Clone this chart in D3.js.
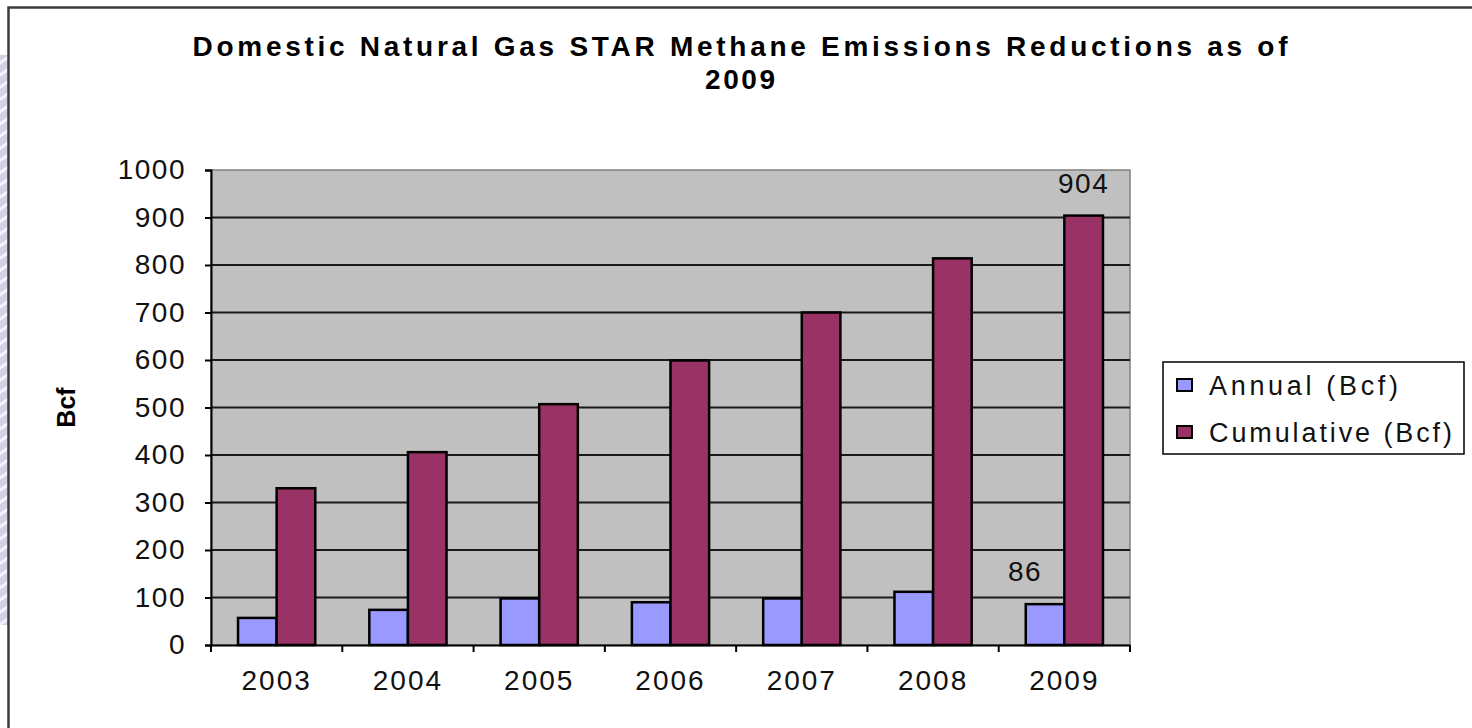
<!DOCTYPE html>
<html>
<head>
<meta charset="utf-8">
<script src="https://cdn.jsdelivr.net/npm/d3@7"></script>
<style>
  body { margin: 0; background: #fff; }
  svg { display: block; font-family: "Liberation Sans", Arial, sans-serif; }
</style>
</head>
<body>
<svg id="chart" width="1472" height="728"></svg>
<script>
// chart data
const years = ['2003', '2004', '2005', '2006', '2007', '2008', '2009']
const seriesNames = ['Annual (Bcf)', 'Cumulative (Bcf)']
const annual = [57, 74, 98, 90, 98, 112, 86]
const cumulative = [330, 406, 507, 599, 700, 814, 904]
const yTicks = [0, 100, 200, 300, 400, 500, 600, 700, 800, 900, 1000]
const seriesColors = ['#9999ff', '#993366']
const titleLines = ['Domestic Natural Gas STAR Methane Emissions Reductions as of', '2009']
const labelled = ['2009']

const svg = d3.select('#chart')

// plot box
const plot = { left: 211, top: 170, right: 1130, bottom: 645 }
const gapWidth = 1.4

// slide background stripes on the left edge
const defs = svg.append('defs')
const pat = defs.append('pattern')
  .attr('id', 'stripes')
  .attr('patternUnits', 'userSpaceOnUse')
  .attr('width', 10).attr('height', 10)
  .attr('patternTransform', 'rotate(-35)')
pat.append('rect').attr('width', 10).attr('height', 10).attr('fill', '#d2d2e6')
pat.append('rect').attr('width', 10).attr('height', 3).attr('fill', '#f4f4fa')

svg.append('rect')
  .attr('x', 0).attr('y', 55)
  .attr('width', 8).attr('height', 570)
  .attr('fill', 'url(#stripes)')

// chart frame
svg.append('rect')
  .attr('x', 8.5).attr('y', 7.5)
  .attr('width', 1500).attr('height', 800)
  .attr('fill', '#fff')
  .attr('stroke', '#3c3c3c')
  .attr('stroke-width', 2.5)

// title
svg.append('text')
  .attr('x', 740).attr('y', 56)
  .attr('text-anchor', 'middle')
  .attr('font-size', 28).attr('font-weight', 'bold')
  .attr('textLength', 1095).attr('lengthAdjust', 'spacing')
  .attr('fill', '#000')
  .text(titleLines[0])
svg.append('text')
  .attr('x', 740).attr('y', 89)
  .attr('text-anchor', 'middle')
  .attr('font-size', 28).attr('font-weight', 'bold')
  .attr('textLength', 70).attr('lengthAdjust', 'spacing')
  .attr('fill', '#000')
  .text(titleLines[1])

// scales
const x = d3.scaleBand().domain(years).range([plot.left, plot.right])
const bw = x.bandwidth()
const barW = bw / (seriesNames.length + gapWidth)
const x1 = d3.scaleBand()
  .domain(seriesNames)
  .range([(bw - barW * seriesNames.length) / 2, (bw + barW * seriesNames.length) / 2])
const y = d3.scaleLinear().domain([0, 1000]).range([plot.bottom, plot.top])

// plot background
svg.append('rect')
  .attr('x', plot.left).attr('y', plot.top)
  .attr('width', plot.right - plot.left).attr('height', plot.bottom - plot.top)
  .attr('fill', '#c0c0c0')
  .attr('stroke', '#808080')
  .attr('stroke-width', 1.5)

// gridlines
svg.append('g')
  .selectAll('line')
  .data(yTicks.filter(d => d > 0 && d < 1000))
  .join('line')
  .attr('x1', plot.left).attr('x2', plot.right)
  .attr('y1', d => y(d)).attr('y2', d => y(d))
  .attr('stroke', '#1a1a1a')
  .attr('stroke-width', 2)

// bars
const rows = years.map((yr, i) => ({ year: yr, values: [annual[i], cumulative[i]] }))
const groups = svg.append('g')
  .selectAll('g')
  .data(rows)
  .join('g')
  .attr('transform', d => `translate(${x(d.year)},0)`)

groups.selectAll('rect')
  .data(d => d.values.map((v, k) => ({ name: seriesNames[k], value: v, k: k, year: d.year })))
  .join('rect')
  .attr('x', d => x1(d.name))
  .attr('y', d => y(d.value))
  .attr('width', x1.bandwidth())
  .attr('height', d => y(0) - y(d.value))
  .attr('fill', d => seriesColors[d.k])
  .attr('stroke', '#000')
  .attr('stroke-width', 2.5)

// data labels for the last year
groups.filter(d => labelled.includes(d.year))
  .selectAll('text')
  .data(d => d.values.map((v, k) => ({ name: seriesNames[k], value: v, k: k })))
  .join('text')
  .attr('x', d => x1(d.name) + x1.bandwidth() / 2 + (d.k === 0 ? -20 : 0))
  .attr('y', d => y(d.value) - 23)
  .attr('text-anchor', 'middle')
  .attr('font-size', 28)
  .attr('letter-spacing', 1.5)
  .attr('fill', '#111')
  .text(d => d.value)

// y axis
const yAxis = svg.append('g')
  .attr('transform', `translate(${plot.left},0)`)
  .call(d3.axisLeft(y).tickValues(yTicks).tickFormat(d3.format('d')).tickSize(6).tickPadding(19))
yAxis.select('.domain').attr('stroke', '#000').attr('stroke-width', 2)
yAxis.selectAll('.tick line').attr('stroke', '#000').attr('stroke-width', 2)
yAxis.selectAll('.tick text')
  .attr('font-size', 28)
  .attr('letter-spacing', 1.5)
  .attr('font-family', '"Liberation Sans", Arial, sans-serif')
  .attr('fill', '#111')

// x axis, ticks on category boundaries
const xAxis = svg.append('g')
  .attr('transform', `translate(0,${plot.bottom})`)
  .call(d3.axisBottom(x).tickSize(0).tickPadding(25))
xAxis.select('.domain').attr('stroke', '#000').attr('stroke-width', 2)
xAxis.selectAll('.tick text')
  .attr('font-size', 28)
  .attr('letter-spacing', 2)
  .attr('font-family', '"Liberation Sans", Arial, sans-serif')
  .attr('fill', '#111')
xAxis.append('g')
  .selectAll('line')
  .data(years.concat(['end']))
  .join('line')
  .attr('x1', d => d === 'end' ? plot.right : x(d))
  .attr('x2', d => d === 'end' ? plot.right : x(d))
  .attr('y1', 0).attr('y2', 7)
  .attr('stroke', '#000')
  .attr('stroke-width', 2)

// y axis title
svg.append('text')
  .attr('transform', `translate(75,${(plot.top + plot.bottom) / 2}) rotate(-90)`)
  .attr('text-anchor', 'middle')
  .attr('font-size', 25)
  .attr('font-weight', 'bold')
  .attr('fill', '#000')
  .text('Bcf')

// legend
const legend = svg.append('g').attr('transform', 'translate(1163,362)')
legend.append('rect')
  .attr('width', 301).attr('height', 92)
  .attr('fill', '#fff')
  .attr('stroke', '#000')
  .attr('stroke-width', 1.5)
const item = legend.selectAll('g.item')
  .data(seriesNames)
  .join('g')
  .attr('class', 'item')
  .attr('transform', (d, i) => `translate(14,${23 + i * 47})`)
item.append('rect')
  .attr('x', 0).attr('y', -6)
  .attr('width', 15).attr('height', 12)
  .attr('fill', (d, i) => seriesColors[i])
  .attr('stroke', '#000')
  .attr('stroke-width', 2)
item.append('text')
  .attr('x', 32).attr('y', 10)
  .attr('font-size', 27)
  .attr('textLength', (d, i) => i === 0 ? 189 : 243)
  .attr('lengthAdjust', 'spacing')
  .attr('fill', '#111')
  .text(d => d)
</script>
</body>
</html>
